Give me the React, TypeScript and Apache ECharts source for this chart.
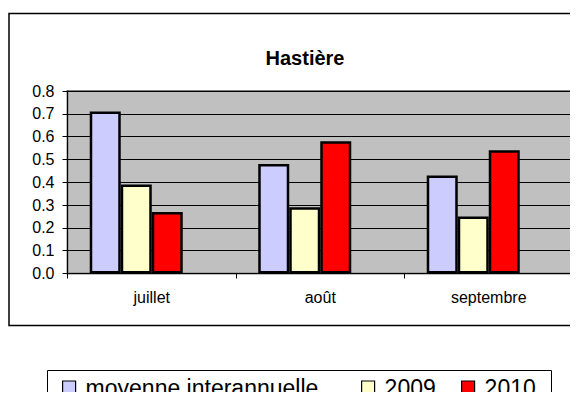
import React, { useEffect, useRef } from "react";
import * as echarts from "echarts";

const categories = ["juillet", "août", "septembre"];
const seriesNames = ["moyenne interannuelle", "2009", "2010"];
const moyenne = [0.71, 0.48, 0.43];
const values2009 = [0.39, 0.29, 0.25];
const values2010 = [0.27, 0.58, 0.54];
const emptySeries = [null, null, null];
const yTicks = { min: 0, max: 0.8, interval: 0.1 };
const colors = ["#CCCCFF", "#FFFFCC", "#FF0000"];

const FONT = "'Liberation Sans', Arial, sans-serif";

export default function App() {
  const ref = useRef<HTMLDivElement>(null);
  useEffect(() => {
    if (!ref.current) return;
    const chart = echarts.init(ref.current, undefined, { renderer: "svg" });
    const seriesData = [moyenne, values2009, values2010];
    const legendLefts = [57, 356, 456];
    chart.setOption({
      animation: false,
      title: {
        text: "Hastière",
        left: 300,
        top: 43,
        textAlign: "center",
        textStyle: { fontFamily: FONT, fontSize: 20, fontWeight: "bold", color: "#000" },
      },
      legend: seriesNames.map((n, i) => ({
        data: [n],
        left: legendLefts[i],
        top: 371,
        padding: 5,
        itemWidth: 13,
        itemHeight: 13,
        icon: "rect",
        itemStyle: { borderColor: "#000", borderWidth: 1.2 },
        textStyle: { fontFamily: FONT, fontSize: 23, color: "#000", padding: [0, 0, 0, 5] },
        selectedMode: false,
      })),
      grid: {
        left: 67.5,
        right: 5,
        top: 91,
        bottom: 126.5,
        show: true,
        backgroundColor: "#C0C0C0",
        borderColor: "#808080",
        borderWidth: 2,
      },
      xAxis: {
        type: "category",
        data: categories,
        axisLine: { lineStyle: { color: "#000", width: 1 } },
        axisTick: { show: true, length: 5, interval: 0, lineStyle: { color: "#000" } },
        axisLabel: { fontFamily: FONT, fontSize: 16, color: "#000", margin: 16, interval: 0 },
      },
      yAxis: {
        type: "value",
        min: yTicks.min,
        max: yTicks.max,
        interval: yTicks.interval,
        axisLine: { show: true, lineStyle: { color: "#000", width: 1 } },
        axisTick: { show: true, length: 5, lineStyle: { color: "#000" } },
        axisLabel: {
          fontFamily: FONT,
          fontSize: 16,
          color: "#000",
          margin: 13,
          formatter: (v: number) => v.toFixed(1),
        },
        splitLine: { show: true, lineStyle: { color: "#000", width: 1 } },
      },
      series: [
        ...seriesNames.map((n, i) => ({
          name: n,
          type: "bar",
          data: seriesData[i],
          barGap: "0%",
          barCategoryGap: "26.4%",
          itemStyle: { color: colors[i], borderColor: "#000", borderWidth: 2.5 },
        })),
        {
          name: "_vide",
          type: "bar",
          data: emptySeries,
          barGap: "0%",
          barCategoryGap: "26.4%",
        },
      ],
      graphic: [
        {
          type: "polyline",
          shape: { points: [[640, 13.5], [9, 13.5], [9, 325.5], [640, 325.5]] },
          style: { fill: "none", stroke: "#000", lineWidth: 1.5 },
          silent: true,
        },
        {
          type: "polyline",
          shape: { points: [[47.5, 440], [47.5, 370.5], [551.5, 370.5], [551.5, 440]] },
          style: { fill: "none", stroke: "#000", lineWidth: 1 },
          silent: true,
        },
      ],
    });
    return () => chart.dispose();
  }, []);
  return <div ref={ref} style={{ width: 578, height: 400, margin: -8 }} />;
}
